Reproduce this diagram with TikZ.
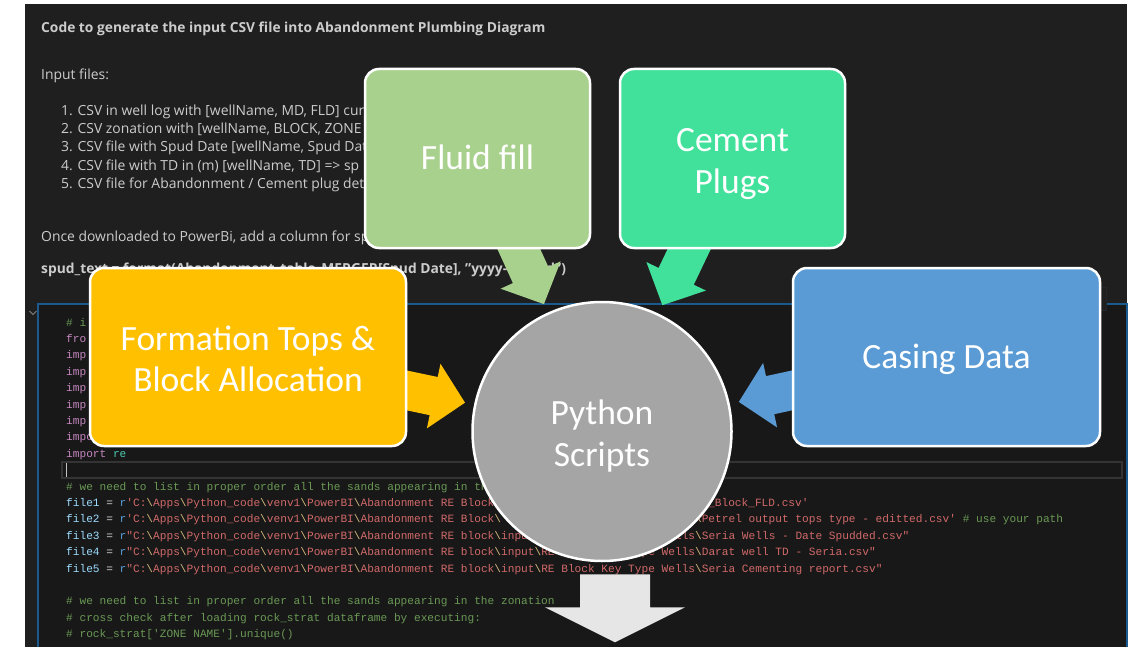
\documentclass[tikz,border=0pt]{standalone}
\usepackage{fontspec}
\setmainfont{Open Sans}
\newfontfamily\boxfont{Carlito}
\setmonofont{Liberation Mono}
\usepackage{tikz}
\usetikzlibrary{calc,positioning}
\usepackage{xcolor}

\pgfdeclarelayer{front}
\pgfsetlayers{main,front}

\definecolor{paneldark}{HTML}{1F1F1F}
\definecolor{celldark}{HTML}{181818}
\definecolor{cellblue}{HTML}{1A5A8E}
\definecolor{mdgrey}{HTML}{CCCCCC}
\definecolor{fluidgreen}{HTML}{A9D18E}
\definecolor{cementgreen}{HTML}{42E19B}
\definecolor{topsorange}{HTML}{FFC000}
\definecolor{casingblue}{HTML}{5B9BD5}
\definecolor{scriptgrey}{HTML}{A5A5A5}
\definecolor{outgrey}{HTML}{E7E6E6}
\definecolor{pyplain}{HTML}{D4D4D4}
\definecolor{pycomment}{HTML}{6A9955}
\definecolor{pykeyword}{HTML}{C586C0}
\definecolor{pymodule}{HTML}{4EC9B0}
\definecolor{pyvar}{HTML}{9CDCFE}
\definecolor{pyprefix}{HTML}{569CD6}
\definecolor{pystring}{HTML}{D16969}
\definecolor{pyescape}{HTML}{D7BA7D}

\newcommand\pycmt[1]{\textcolor{pycomment}{#1}}
\newcommand\pykw[1]{\textcolor{pykeyword}{#1}}
\newcommand\pyvr[1]{\textcolor{pyvar}{#1}}
\newcommand\pystr[1]{\textcolor{pystring}{#1}}
\newcommand\bsl{\textcolor{pyescape}{\textbackslash}}
\newcommand\rpath{\textcolor{pyprefix}{r}}
\newcommand\boxstrut{\rule[-9.2pt]{0pt}{41.2pt}}
\newcommand\lowerstrut{\rule{0pt}{37pt}}

% block arrow: colour, start, tip, half shaft, half head, head length
\newcommand\blockarrow[6]{%
  \coordinate (hb) at ($(#3)!#6!(#2)$);
  \fill[#1] ($(#2)!#4!90:(#3)$) -- ($(hb)!#4!-90:(#2)$) -- ($(hb)!#5!-90:(#2)$) -- (#3)
    -- ($(hb)!#5!90:(#2)$) -- ($(hb)!#4!90:(#2)$) -- ($(#2)!#4!-90:(#3)$) -- cycle;}

\tikzset{
  smartbox/.style={draw=white, line width=2.5pt, rounded corners=14pt, text=white,
    align=center, inner sep=0pt, font=\boxfont\fontsize{35.5}{41.5}\selectfont,
    execute at begin node=\boxstrut, execute at end node=\boxstrut},
  mdtext/.style={anchor=base west, inner sep=0pt, text=mdgrey,
    font=\fontsize{13.9}{16}\selectfont},
  mdbold/.style={mdtext, font=\bfseries\fontsize{13.8}{16}\selectfont},
  codeline/.style={anchor=base west, inner sep=0pt, text=pyplain,
    font=\ttfamily\fontsize{11.15}{13}\selectfont},
}

\begin{document}
\begin{tikzpicture}[x=1pt,y=-1pt]
  \useasboundingbox (0,0) rectangle (1142,647);
  \fill[white] (0,0) rectangle (1142,647);

  % notebook panel and code cell
  \fill[paneldark] (25,4) rectangle (1127,647);
  \fill[celldark] (38,304) rectangle (1127,647);
  \draw[cellblue, line width=1.2pt] (38,647) -- (38,304) -- (1127,304) -- (1127,647);
  \draw[gray, line width=0.8pt] (29.5,311) -- (33,314.5) -- (36.5,311);
  \filldraw[fill=paneldark, draw=black!70!gray] (1080,287) rectangle (1106,310);
  \draw[white!12!celldark, line width=1.5pt] (62,462) rectangle (1122,478);
  \draw[pyplain!80!gray, line width=1pt] (66.5,463) -- (66.5,477);

  % markdown text
  \node[mdbold] (title) at (41,33) {Code to generate the input CSV file into Abandonment Plumbing Diagram};
  \node[mdtext] (inputs) at (41,80) {Input files:};
  \foreach \n/\y/\txt in {1/116/{CSV in well log with [wellName, MD, FLD] cur},
      2/134/{CSV zonation with [wellName, BLOCK, ZONE [},
      3/152/{CSV file with Spud Date [wellName, Spud Dat},
      4/171/{CSV file with TD in (m) [wellName, TD] => sp},
      5/189/{CSV file for Abandonment / Cement plug det}}
    \node[mdtext] (item\n) at (61,\y) {\n. \txt};
  \node[mdtext] (once) at (41,241) {Once downloaded to PowerBi, add a column for sp};
  \node[mdbold] (spud) at (41,273) {spud\_text = format(Abandonment\_table\_MERGER[Spud Date], "yyyy-MM-dd")};

  % python code
  \foreach \i/\txt in {0/{\pycmt{\# i}}, 1/{\pykw{fro}}, 2/{\pykw{imp}}, 3/{\pykw{imp}},
      4/{\pykw{imp}}, 5/{\pykw{imp}}, 6/{\pykw{imp}}, 7/{\pykw{impo}},
      8/{\pykw{import} \textcolor{pymodule}{re}},
      10/{\pycmt{\# we need to list in proper order all the sands appearing in the zonation}},
      11/{\pyvr{file1} = \rpath\pystr{'C:\bsl Apps\bsl Python\_code\bsl venv1\bsl PowerBI\bsl Abandonment RE Block}},
      12/{\pyvr{file2} = \rpath\pystr{'C:\bsl Apps\bsl Python\_code\bsl venv1\bsl PowerBI\bsl Abandonment RE Block\bsl}},
      13/{\pyvr{file3} = \rpath\pystr{"C:\bsl Apps\bsl Python\_code\bsl venv1\bsl PowerBI\bsl Abandonment RE block\bsl input\bsl RE Block Key Type Wells\bsl Seria Wells - Date Spudded.csv"}},
      14/{\pyvr{file4} = \rpath\pystr{"C:\bsl Apps\bsl Python\_code\bsl venv1\bsl PowerBI\bsl Abandonment RE block\bsl input\bsl RE Block Key Type Wells\bsl Darat well TD - Seria.csv"}},
      15/{\pyvr{file5} = \rpath\pystr{"C:\bsl Apps\bsl Python\_code\bsl venv1\bsl PowerBI\bsl Abandonment RE block\bsl input\bsl RE Block Key Type Wells\bsl Seria Cementing report.csv"}},
      17/{\pycmt{\# we need to list in proper order all the sands appearing in the zonation}},
      18/{\pycmt{\# cross check after loading rock\_strat dataframe by executing:}},
      19/{\pycmt{\# rock\_strat['ZONE NAME'].unique()}}}
    \node[codeline] (code\i) at (66,{326+16.4*\i}) {\txt};
  \node[codeline] (file1end) at (708,{326+16.4*11}) {\pystr{\_Block\_FLD.csv'}};
  \node[codeline] (file2end) at (694.9,{326+16.4*12}) {\pystr{\bsl Petrel output tops type - editted.csv'} \pycmt{\# use your path}};

  % SmartArt shapes
  \begin{pgfonlayer}{front}
    \node[smartbox, fill=fluidgreen, minimum width=225pt, minimum height=179pt] (fluid) at (477.5,158.5) {Fluid fill};
    \node[smartbox, fill=cementgreen, minimum width=225pt, minimum height=179pt] (cement) at (732.5,158.5) {\lowerstrut Cement\\Plugs};
    \node[smartbox, fill=topsorange, minimum width=316pt, minimum height=178pt] (tops) at (248,357) {\lowerstrut Formation Tops \&\\Block Allocation};
    \node[smartbox, fill=casingblue, minimum width=307pt, minimum height=178pt] (casing) at (946.5,357) {Casing Data};
    \node[smartbox, circle, fill=scriptgrey, minimum size=259pt] (python) at (602,431.5) {\lowerstrut Python\\Scripts};
  \end{pgfonlayer}

  % arrows into and out of the scripts
  \foreach \src/\col in {fluid/fluidgreen, cement/cementgreen, tops/topsorange, casing/casingblue}{
    \coordinate (\src tip) at ($(python)!140pt!(\src)$);
    \blockarrow{\col}{\src}{\src tip}{19.5pt}{33pt}{32pt}
  }
  \coordinate (outbase) at ($(python.south)+(13,12)$);
  \coordinate (outtip) at ($(outbase)+(0,68)$);
  \blockarrow{outgrey}{outbase}{outtip}{35pt}{70pt}{35pt}
\end{tikzpicture}
\end{document}
